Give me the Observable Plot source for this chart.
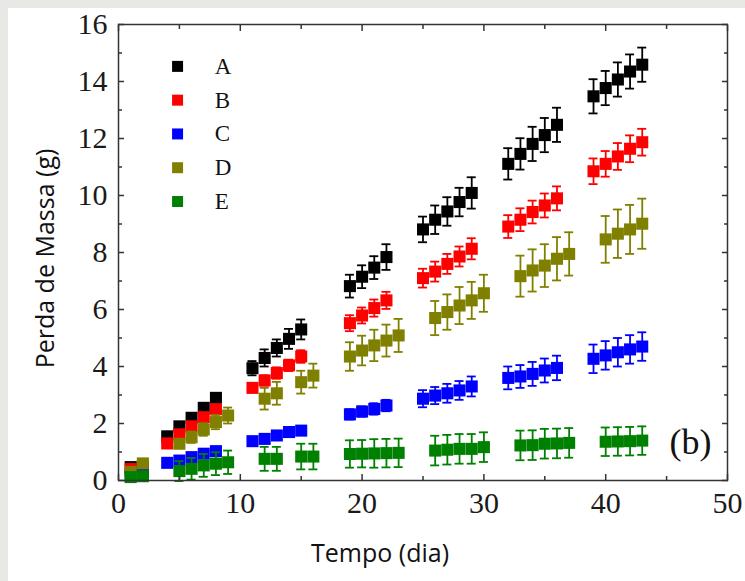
<!DOCTYPE html>
<html>
<head>
<meta charset="utf-8">
<script src="https://cdn.jsdelivr.net/npm/d3@7"></script>
<script src="https://cdn.jsdelivr.net/npm/@observablehq/plot@0.6"></script>
<style>
  html, body { margin: 0; padding: 0; }
  body { width: 745px; height: 581px; background: #e8e9e4; position: relative; overflow: hidden; }
  #panel { position: absolute; left: 8px; top: 8px; width: 737px; height: 573px; background: #ffffff; }
  #chart { position: absolute; left: 0; top: 0; }
</style>
</head>
<body>
<div id="panel"></div>
<div id="chart"></div>
<script>
// ---- data ----
const seriesNames = ["A", "B", "C", "D", "E"];
const seriesColors = ["#000000", "#ff0000", "#0000ff", "#808000", "#008000"];

const daysABC = [1, 2, 4, 5, 6, 7, 8, 11, 12, 13, 14, 15, 19, 20, 21, 22, 25, 26, 27, 28, 29, 32, 33, 34, 35, 36, 39, 40, 41, 42, 43];
const daysDE = [1, 2, 5, 6, 7, 8, 9, 12, 13, 15, 16, 19, 20, 21, 22, 23, 26, 27, 28, 29, 30, 33, 34, 35, 36, 37, 40, 41, 42, 43];

const valuesA = [0.47, 0.5, 1.55, 1.9, 2.2, 2.55, 2.9, 3.94, 4.3, 4.65, 4.97, 5.3, 6.82, 7.15, 7.47, 7.84, 8.81, 9.15, 9.44, 9.77, 10.09, 11.11, 11.46, 11.81, 12.12, 12.48, 13.48, 13.77, 14.07, 14.35, 14.59];
const valuesB = [0.4, 0.45, 1.3, 1.62, 1.9, 2.22, 2.5, 3.25, 3.51, 3.77, 4.04, 4.35, 5.52, 5.79, 6.05, 6.32, 7.1, 7.33, 7.6, 7.86, 8.13, 8.91, 9.15, 9.42, 9.65, 9.9, 10.85, 11.11, 11.37, 11.64, 11.87];
const valuesC = [0.15, 0.2, 0.62, 0.7, 0.82, 0.94, 1.03, 1.38, 1.46, 1.58, 1.7, 1.75, 2.32, 2.42, 2.51, 2.63, 2.87, 2.98, 3.06, 3.16, 3.3, 3.6, 3.65, 3.74, 3.86, 3.95, 4.27, 4.39, 4.5, 4.6, 4.7];
const valuesD = [0.3, 0.6, 1.29, 1.52, 1.79, 2.05, 2.28, 2.87, 3.06, 3.45, 3.68, 4.35, 4.56, 4.74, 4.91, 5.09, 5.7, 5.91, 6.14, 6.32, 6.57, 7.17, 7.37, 7.54, 7.78, 7.95, 8.46, 8.66, 8.81, 9.01];
const valuesE = [0.12, 0.15, 0.33, 0.41, 0.53, 0.59, 0.64, 0.76, 0.76, 0.84, 0.84, 0.93, 0.94, 0.95, 0.96, 0.97, 1.05, 1.08, 1.11, 1.11, 1.17, 1.23, 1.24, 1.29, 1.3, 1.32, 1.36, 1.37, 1.38, 1.4];

const errA = [0.05, 0.05, 0.1, 0.1, 0.1, 0.15, 0.15, 0.25, 0.3, 0.3, 0.35, 0.35, 0.4, 0.4, 0.4, 0.45, 0.45, 0.5, 0.5, 0.5, 0.55, 0.55, 0.55, 0.6, 0.6, 0.6, 0.6, 0.6, 0.6, 0.6, 0.6];
const errB = [0.05, 0.05, 0.1, 0.1, 0.1, 0.1, 0.12, 0.15, 0.18, 0.2, 0.2, 0.22, 0.28, 0.28, 0.3, 0.3, 0.33, 0.35, 0.35, 0.35, 0.37, 0.4, 0.4, 0.4, 0.42, 0.42, 0.45, 0.45, 0.47, 0.47, 0.47];
const errC = [0.03, 0.03, 0.08, 0.08, 0.08, 0.08, 0.1, 0.1, 0.1, 0.1, 0.1, 0.1, 0.18, 0.18, 0.2, 0.2, 0.3, 0.3, 0.33, 0.33, 0.35, 0.4, 0.4, 0.42, 0.42, 0.43, 0.5, 0.5, 0.5, 0.5, 0.5];
const errD = [0.05, 0.05, 0.15, 0.2, 0.22, 0.25, 0.28, 0.38, 0.4, 0.4, 0.42, 0.5, 0.52, 0.55, 0.56, 0.58, 0.6, 0.62, 0.65, 0.65, 0.65, 0.72, 0.74, 0.75, 0.76, 0.76, 0.82, 0.85, 0.86, 0.88];
const errE = [0.05, 0.05, 0.35, 0.38, 0.4, 0.4, 0.41, 0.42, 0.42, 0.45, 0.45, 0.48, 0.48, 0.5, 0.5, 0.5, 0.52, 0.52, 0.52, 0.52, 0.52, 0.52, 0.52, 0.52, 0.52, 0.52, 0.5, 0.5, 0.5, 0.5];

const xMajorTicks = [0, 10, 20, 30, 40, 50];
const xMinorTicks = [5, 15, 25, 35, 45];
const yMajorTicks = [0, 2, 4, 6, 8, 10, 12, 14, 16];
const yMinorTicks = [1, 3, 5, 7, 9, 11, 13, 15];

const xTitle = "Tempo (dia)";
const yTitle = "Perda de Massa (g)";
const panelTag = "(b)";

// ---- build tables ----
const seriesDays = [daysABC, daysABC, daysABC, daysDE, daysDE];
const seriesValues = [valuesA, valuesB, valuesC, valuesD, valuesE];
const seriesErrs = [errA, errB, errC, errD, errE];
const tables = seriesNames.map((name, i) =>
  seriesDays[i].map((day, j) => ({series: name, day, v: seriesValues[i][j], e: seriesErrs[i][j]}))
);

// legend placement in data units
const legendX = 4.85, legendTextX = 7.9, legendTop = 14.53, legendStep = 1.185;
const capHalf = 0.37;

const serif = "Liberation Serif, Times New Roman, serif";
const sans = "Open Sans, Lato, sans-serif";

const marks = [];
tables.forEach((rows, i) => {
  const c = seriesColors[i];
  marks.push(Plot.ruleX(rows, {x: "day", y1: d => d.v - d.e, y2: d => d.v + d.e, stroke: c, strokeWidth: 1.8}));
  marks.push(Plot.ruleY(rows, {y: d => d.v + d.e, x1: d => d.day - capHalf, x2: d => d.day + capHalf, stroke: c, strokeWidth: 1.8}));
  marks.push(Plot.ruleY(rows, {y: d => d.v - d.e, x1: d => d.day - capHalf, x2: d => d.day + capHalf, stroke: c, strokeWidth: 1.8}));
  marks.push(Plot.dot(rows, {x: "day", y: "v", symbol: "square", r: 6.8, fill: c}));
});

// legend
seriesNames.forEach((name, i) => {
  marks.push(Plot.dot([name], {x: () => legendX, y: () => legendTop - i * legendStep, symbol: "square", r: 6.2, fill: seriesColors[i]}));
  marks.push(Plot.text([name], {x: () => legendTextX, y: () => legendTop - i * legendStep, text: d => d, textAnchor: "start", fontSize: 23, fontFamily: serif, fill: "#111"}));
});

const tickStyle = {stroke: "#333", strokeWidth: 1.5, tickFormat: () => "", label: null};
marks.push(
  Plot.axisY({anchor: "left", ticks: yMajorTicks, tickSize: 6, dx: 6, ...tickStyle}),
  Plot.axisY({anchor: "left", ticks: yMinorTicks, tickSize: 4, dx: 4, ...tickStyle}),
  Plot.axisY({anchor: "right", ticks: yMajorTicks, tickSize: 6, dx: -6, ...tickStyle}),
  Plot.axisY({anchor: "right", ticks: yMinorTicks, tickSize: 4, dx: -4, ...tickStyle}),
  Plot.axisX({anchor: "bottom", ticks: xMajorTicks, tickSize: 6, dy: -6, ...tickStyle}),
  Plot.axisX({anchor: "bottom", ticks: xMinorTicks, tickSize: 4, dy: -4, ...tickStyle}),
  Plot.axisX({anchor: "top", ticks: xMajorTicks, tickSize: 6, dy: 6, ...tickStyle}),
  Plot.axisX({anchor: "top", ticks: xMinorTicks, tickSize: 4, dy: 4, ...tickStyle}),
  Plot.axisY({anchor: "left", ticks: yMajorTicks, tickSize: 0, tickPadding: 11, fontSize: 30, fontFamily: serif, fill: "#1a1a1a", tickFormat: d => String(d), label: null}),
  Plot.axisX({anchor: "bottom", ticks: xMajorTicks, tickSize: 0, tickPadding: 11, fontSize: 30, fontFamily: serif, fill: "#1a1a1a", tickFormat: d => String(d), label: null}),
  Plot.frame({stroke: "#333", strokeWidth: 1.5}),
  Plot.text([yTitle], {frameAnchor: "left", dx: -73, dy: 6, rotate: -90, textAnchor: "middle", lineAnchor: "middle", fontSize: 25, fontFamily: sans, fill: "#111"}),
  Plot.text([xTitle], {frameAnchor: "bottom", dx: -43, dy: 73, textAnchor: "middle", lineAnchor: "middle", fontSize: 25, fontFamily: sans, fill: "#111"}),
  Plot.text([panelTag], {frameAnchor: "bottom-right", dx: -37, dy: -38, textAnchor: "middle", lineAnchor: "middle", fontSize: 36, fontFamily: serif, fill: "#111"})
);

const chart = Plot.plot({
  width: 745,
  height: 581,
  marginLeft: 118,
  marginRight: 18,
  marginTop: 24,
  marginBottom: 101,
  x: {domain: [0, 50]},
  y: {domain: [0, 16]},
  style: {background: "transparent", overflow: "visible"},
  marks
});
document.getElementById("chart").appendChild(chart);
</script>
</body>
</html>
